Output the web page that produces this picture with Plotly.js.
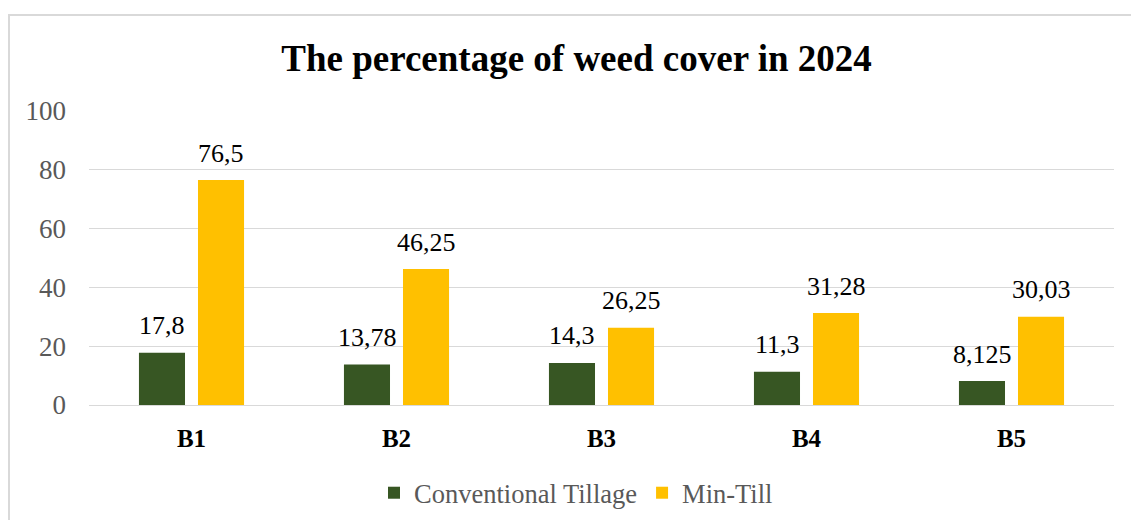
<!DOCTYPE html>
<html>
<head>
<meta charset="utf-8">
<script src="https://cdn.plot.ly/plotly-3.0.1.min.js"></script>
<style>
  html, body { margin: 0; padding: 0; background: #ffffff; overflow: hidden; }
  #frame { position: absolute; left: 8px; top: 14px; width: 1200px; height: 600px;
           border-left: 2px solid #d9d9d9; border-top: 2px solid #d9d9d9; }
  #chart { position: absolute; left: 0; top: 0; width: 1131px; height: 520px; }
</style>
</head>
<body>
<div id="frame"></div>
<div id="chart"></div>
<script>
const categories = ["B1", "B2", "B3", "B4", "B5"];
const conventional = [17.8, 13.78, 14.3, 11.3, 8.125];
const minTill = [76.5, 46.25, 26.25, 31.28, 30.03];
const conventionalLabels = ["17,8", "13,78", "14,3", "11,3", "8,125"];
const minTillLabels = ["76,5", "46,25", "26,25", "31,28", "30,03"];
const seriesNames = ["Conventional Tillage", "Min-Till"];
const chartTitle = "The percentage of weed cover in 2024";

const serif = "Liberation Serif";
const green = "#375623";
const gold = "#FFC000";

const traces = [
  { type: "bar", name: seriesNames[0], x: categories, y: conventional,
    marker: { color: green }, hoverinfo: "skip" },
  { type: "bar", name: seriesNames[1], x: categories, y: minTill,
    marker: { color: gold }, hoverinfo: "skip" }
];

const annotations = [];
categories.forEach((c, i) => {
  annotations.push({ x: c, y: conventional[i], xref: "x", yref: "y", text: conventionalLabels[i],
    showarrow: false, xshift: -29.5, yshift: 27, yanchor: "middle",
    font: { family: serif, size: 26, color: "#000000" } });
  annotations.push({ x: c, y: minTill[i], xref: "x", yref: "y", text: minTillLabels[i],
    showarrow: false, xshift: 29.5, yshift: 27, yanchor: "middle",
    font: { family: serif, size: 26, color: "#000000" } });
});

const layout = {
  width: 1131, height: 520,
  paper_bgcolor: "rgba(0,0,0,0)", plot_bgcolor: "rgba(0,0,0,0)",
  margin: { l: 89, r: 17, t: 111, b: 115 },
  font: { family: serif, size: 26, color: "#595959" },
  title: { text: "<b>" + chartTitle + "</b>", xref: "container", yref: "container",
    x: 576.5 / 1131, xanchor: "center", y: 1 - 58 / 520, yanchor: "middle",
    font: { family: serif, size: 37, color: "#000000" } },
  barmode: "group",
  bargap: 0.424,
  bargroupgap: 0.22,
  xaxis: { type: "category", showgrid: false, showline: false, zeroline: false,
    ticks: "", ticklabelstandoff: 16,
    tickfont: { family: serif, size: 25, color: "#000000", weight: "bold" } },
  yaxis: { range: [0, 100], dtick: 20, tick0: 0, showgrid: true, gridcolor: "#d9d9d9",
    gridwidth: 1, zeroline: true, zerolinecolor: "#d9d9d9", zerolinewidth: 1,
    showline: false, ticks: "", ticklabelstandoff: 22,
    tickfont: { family: serif, size: 27, color: "#595959" } },
  showlegend: true,
  legend: { orientation: "h", xref: "container", yref: "container",
    x: 576 / 1131, xanchor: "center", y: 1 - 493 / 520, yanchor: "middle",
    font: { family: serif, size: 26.5, color: "#595959" }, itemwidth: 30,
    bgcolor: "rgba(0,0,0,0)" },
  annotations: annotations
};

Plotly.newPlot("chart", traces, layout, { displayModeBar: false, staticPlot: true });
</script>
</body>
</html>
